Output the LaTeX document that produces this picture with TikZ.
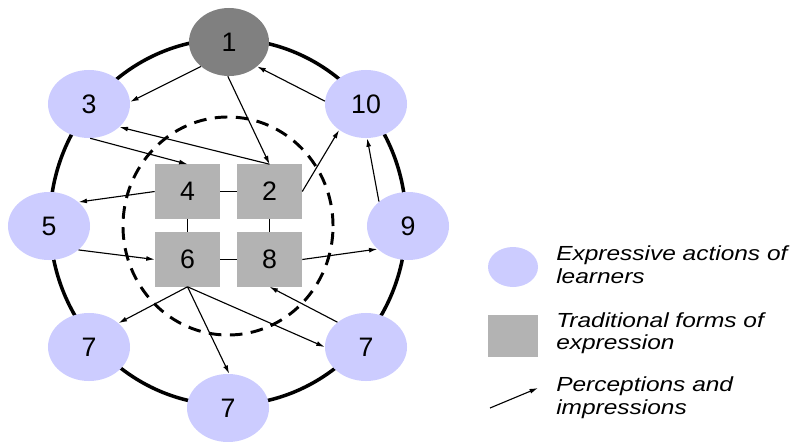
\documentclass[tikz,border=0pt]{standalone}
\usepackage{fontspec}
\setmainfont{Liberation Sans}
\newfontfamily\legfont[FakeStretch=1.2]{Liberation Sans}
\usepackage{xcolor}
\usepackage{tikz}
\usetikzlibrary{arrows.meta,shapes.geometric}
\definecolor{act}{HTML}{CCCCFF}
\definecolor{src}{HTML}{808080}
\definecolor{form}{HTML}{B3B3B3}
\tikzset{
  ring/.style={draw=black, line width=2.5pt},
  inner/.style={draw=black, line width=2.1pt, dash pattern=on 9pt off 6pt},
  actn/.style={ellipse, fill=act, minimum width=2.05cm, minimum height=1.7cm, inner sep=0pt, font=\fontsize{19}{22}\selectfont},
  srcn/.style={actn, fill=src, minimum width=2.0cm},
  formn/.style={rectangle, fill=form, minimum width=1.625cm, minimum height=1.35cm, inner sep=0pt, font=\fontsize{19}{22}\selectfont},
  link/.style={draw=black, line width=0.9pt},
  perc/.style={draw=black, line width=0.8pt, -{Latex[length=6pt,width=3.5pt]}},
  legt/.style={anchor=west, align=left, inner sep=0pt, font=\legfont\itshape\fontsize{14.5}{16}\selectfont},
}

\begin{document}
\begin{tikzpicture}[x=0.025cm,y=-0.025cm]
  \useasboundingbox (0,0) rectangle (794,441);
  \draw[ring] (228,222) ellipse [x radius=4.45cm, y radius=4.575cm];
  \draw[inner] (228,226) ellipse [x radius=2.625cm, y radius=2.725cm];
  % expressive actions
  \node[srcn] (e1) at (229,42) {1};
  \node[actn] (e3) at (89,104) {3};
  \node[actn] (e10) at (366,104) {10};
  \node[actn] (e5) at (49,226) {5};
  \node[actn] (e9) at (408,226) {9};
  \node[actn] (e7a) at (89,347) {7};
  \node[actn] (e7c) at (366,347) {7};
  \node[actn] (e7b) at (228,408) {7};
  % traditional forms
  \node[formn] (f4) at (187.5,191.5) {4};
  \node[formn] (f2) at (269.5,191.5) {2};
  \node[formn] (f6) at (187.5,259.5) {6};
  \node[formn] (f8) at (269.5,259.5) {8};
  \draw[link] (f4) -- (f2);
  \draw[link] (f6) -- (f8);
  \draw[link] (f4) -- (f6);
  \draw[link] (f2) -- (f8);
  % perceptions
  \draw[perc] (e1.221) -- (e3.3);
  \draw[perc] (e1.-92) -- (f2.north);
  \draw[perc] (e10.176) -- (e1.-41);
  \draw[perc] (f2.north) -- (e3.-37);
  \draw[perc] (e3.-88) -- (f4.north);
  \draw[perc] (f2.east) -- (e10.224);
  \draw[perc] (e9.140) -- (e10.-88);
  \draw[perc] (f4.west) -- (e5.39);
  \draw[perc] (e5.-39) -- (f6.west);
  \draw[perc] (f8.east) -- (e9.217);
  \draw[perc] (f6.south) -- (e7a.39);
  \draw[perc] (f6.south) -- (e7b.88);
  \draw[perc] (f6.south) -- (e7c.west);
  \draw[perc] (e7c.139) -- (f8.south);
  % legend
  \node[actn, minimum width=1.25cm, minimum height=1.0cm] (le) at (513,267) {};
  \node[formn, minimum width=1.25cm, minimum height=1.05cm] (lf) at (513,336) {};
  \coordinate (la1) at (490,408);
  \coordinate (la2) at (538,388);
  \draw[perc] (la1) -- (la2);
  \node[legt] (lt1) at (556,264.5) {Expressive actions of\\learners};
  \node[legt] (lt2) at (556,333) {Traditional forms of\\expression};
  \node[legt] (lt3) at (556,397.5) {Perceptions and\\impressions};
\end{tikzpicture}
\end{document}
